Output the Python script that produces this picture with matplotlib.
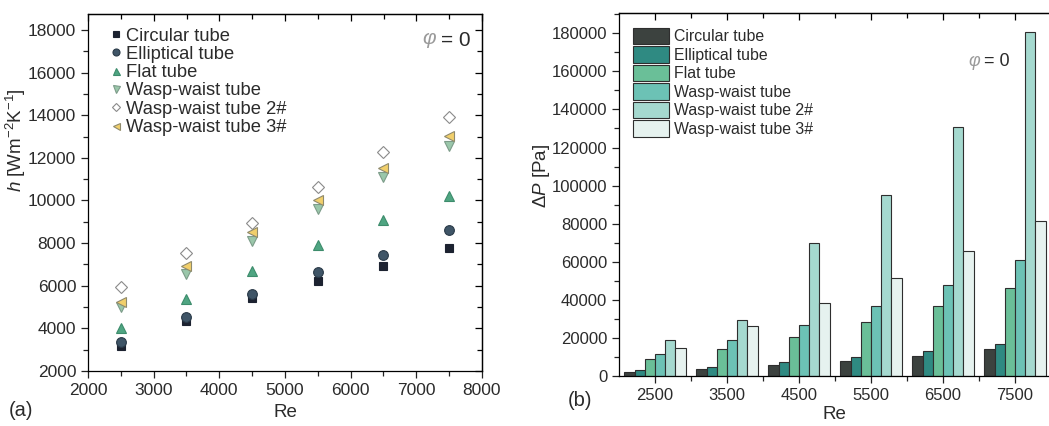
import matplotlib
matplotlib.use("Agg")
import matplotlib.pyplot as plt
from matplotlib.ticker import MultipleLocator, FixedLocator
import numpy as np

plt.rcParams['font.family'] = ['Liberation Sans', 'DejaVu Sans']
plt.rcParams['mathtext.fontset'] = 'custom'
plt.rcParams['mathtext.rm'] = 'Liberation Sans'
plt.rcParams['mathtext.it'] = 'Liberation Sans:italic'

# ---------------- data ----------------
series = ["Circular tube", "Elliptical tube", "Flat tube", "Wasp-waist tube",
          "Wasp-waist tube 2#", "Wasp-waist tube 3#"]
re_values = [2500, 3500, 4500, 5500, 6500, 7500]

h_circular = [3170, 4360, 5440, 6240, 6940, 7760]
h_elliptical = [3380, 4520, 5600, 6640, 7440, 8630]
h_flat = [4030, 5380, 6680, 7900, 9090, 10210]
h_wasp = [5000, 6550, 8110, 9620, 11100, 12560]
h_wasp2 = [5930, 7540, 8960, 10630, 12290, 13920]
h_wasp3 = [5250, 6910, 8510, 10010, 11510, 13040]

dp_circular = [2300, 3700, 5600, 8050, 10700, 14000]
dp_elliptical = [3000, 4500, 7200, 10150, 13300, 17000]
dp_flat = [8750, 14200, 20700, 28200, 36800, 46000]
dp_wasp = [11500, 18700, 26800, 36600, 48000, 60800]
dp_wasp2 = [18900, 29400, 69900, 95100, 131000, 180500]
dp_wasp3 = [14700, 26100, 38500, 51700, 65500, 81600]

h_data = [h_circular, h_elliptical, h_flat, h_wasp, h_wasp2, h_wasp3]
dp_data = [dp_circular, dp_elliptical, dp_flat, dp_wasp, dp_wasp2, dp_wasp3]

# ---------------- styles ----------------
marker_styles = [
    dict(marker='s', ms=5.5, mfc='#1c2230', mec='#1c2230'),
    dict(marker='o', ms=7.0, mfc='#3f5567', mec='#2a3a48'),
    dict(marker='^', ms=7.0, mfc='#4fa582', mec='#3d8c6c'),
    dict(marker='v', ms=7.0, mfc='#9ac7aa', mec='#7d9c8a'),
    dict(marker='D', ms=6.0, mfc='#ffffff', mec='#8a8a8a'),
    dict(marker='<', ms=7.0, mfc='#f1cf6b', mec='#8f8a6c'),
]
bar_colors = ['#3c423f', '#2f8a82', '#6abf98', '#6cc2b5', '#a5d9cf', '#e6f2ef']
text_color = '#2b2b2b'

fig = plt.figure(figsize=(10.49, 4.26), dpi=100)

W, H = 1049.0, 426.0
# ---------------- panel (a) ----------------
ax1 = fig.add_axes([88 / W, 1 - 371 / H, (482 - 88) / W, (371 - 14) / H])
for vals, name, st in zip(h_data, series, marker_styles):
    ax1.plot(re_values, vals, linestyle='none', label=name, mew=0.8, **st)
ax1.set_xlim(2000, 8000)
ax1.set_ylim(2000, 18750)
ax1.xaxis.set_major_locator(MultipleLocator(1000))
ax1.xaxis.set_minor_locator(MultipleLocator(500))
ax1.yaxis.set_major_locator(FixedLocator(np.arange(2000, 18001, 2000)))
ax1.yaxis.set_minor_locator(MultipleLocator(1000))
ax1.tick_params(which='both', direction='out', top=False, right=False,
                labelsize=12.5, colors='#222222', labelcolor=text_color, width=0.9)
ax1.tick_params(which='major', length=5)
ax1.tick_params(which='minor', length=3.5)
sx = ax1.secondary_xaxis('top')
sx.xaxis.set_major_locator(MultipleLocator(1000))
sx.xaxis.set_minor_locator(MultipleLocator(500))
sx.tick_params(which='both', direction='in', labeltop=False, width=0.9)
sx.tick_params(which='major', length=5)
sx.tick_params(which='minor', length=3.5)
sy = ax1.secondary_yaxis('right')
sy.yaxis.set_major_locator(MultipleLocator(2000))
sy.yaxis.set_minor_locator(MultipleLocator(1000))
sy.tick_params(which='both', direction='in', labelright=False, width=0.9)
sy.tick_params(which='major', length=5)
sy.tick_params(which='minor', length=3.5)
for s in list(ax1.spines.values()):
    s.set_linewidth(0.9)
sx.spines['top'].set_linewidth(0.9)
sy.spines['right'].set_linewidth(0.9)

ax1.set_xlabel('Re', fontsize=13.5, color=text_color)
ax1.xaxis.set_label_coords(0.5, -0.092)
ax1.set_ylabel(r'$h$ [Wm$^{-2}$K$^{-1}$]', fontsize=13.5, color=text_color)
ax1.yaxis.set_label_coords(-0.152, 0.647)

leg1 = ax1.legend(loc='upper left', bbox_to_anchor=(0.058, 0.962), frameon=False,
                  fontsize=13.2, handlelength=0.55, handletextpad=0.25,
                  labelspacing=0.07, borderpad=0, borderaxespad=0, markerscale=0.72)
for t in leg1.get_texts():
    t.set_color(text_color)

fig.text(437 / W, 1 - 40 / H, r'$\varphi$', fontsize=15, color='#9a9a9a',
         ha='right', va='center')
fig.text(441 / W, 1 - 40 / H, '= 0', fontsize=15, color=text_color,
         ha='left', va='center')
fig.text(21 / W, 1 - 410 / H, '(a)', fontsize=14.5, color=text_color,
         ha='center', va='center')

# ---------------- panel (b) ----------------
ax2 = fig.add_axes([619 / W, 1 - 376 / H, (1051 - 619) / W, (376 - 13.3) / H])
x = np.array(re_values, dtype=float)
bw = 142
n = len(series)
for i, (vals, name, c) in enumerate(zip(dp_data, series, bar_colors)):
    offs = (i - (n - 1) / 2) * bw
    ax2.bar(x + offs, vals, width=bw, color=c, edgecolor='#2e2e2e',
            linewidth=0.8, label=name)
ax2.set_xlim(2000, 8000)
ax2.set_ylim(0, 190500)
ax2.xaxis.set_major_locator(FixedLocator(re_values))
ax2.xaxis.set_minor_locator(FixedLocator([3000, 4000, 5000, 6000, 7000, 8000]))
ax2.yaxis.set_major_locator(FixedLocator(np.arange(0, 180001, 20000)))
ax2.yaxis.set_minor_locator(MultipleLocator(10000))
ax2.tick_params(which='both', direction='out', top=False, right=False,
                labelsize=12, colors='#222222', labelcolor=text_color, width=0.9)
ax2.tick_params(which='major', length=5)
ax2.tick_params(which='minor', length=3.5)
sx2 = ax2.secondary_xaxis('top')
sx2.xaxis.set_major_locator(FixedLocator(re_values))
sx2.xaxis.set_minor_locator(FixedLocator([3000, 4000, 5000, 6000, 7000]))
sx2.tick_params(which='both', direction='in', labeltop=False, width=0.9)
sx2.tick_params(which='major', length=5)
sx2.tick_params(which='minor', length=3.5)
for s in list(ax2.spines.values()):
    s.set_linewidth(0.9)
ax2.spines['right'].set_visible(False)
sx2.spines['top'].set_linewidth(0.9)

ax2.set_xlabel('Re', fontsize=13.5, color=text_color)
ax2.xaxis.set_label_coords(0.498, -0.083)
ax2.set_ylabel(r'$\Delta P$ [Pa]', fontsize=13.5, color=text_color)
ax2.yaxis.set_label_coords(-0.156, 0.551)

leg2 = ax2.legend(loc='upper left', bbox_to_anchor=(0.0326, 0.96), frameon=False,
                  fontsize=11.4, handlelength=2.3, handleheight=1.22,
                  handletextpad=0.28, labelspacing=0.12, borderpad=0,
                  borderaxespad=0)
for t in leg2.get_texts():
    t.set_color(text_color)

fig.text(981 / W, 1 - 62 / H, r'$\varphi$', fontsize=13, color='#9a9a9a',
         ha='right', va='center')
fig.text(984 / W, 1 - 62 / H, '= 0', fontsize=13, color=text_color,
         ha='left', va='center')
fig.text(580 / W, 1 - 400 / H, '(b)', fontsize=14.5, color=text_color,
         ha='center', va='center')

fig.savefig('out.png', dpi=100)
